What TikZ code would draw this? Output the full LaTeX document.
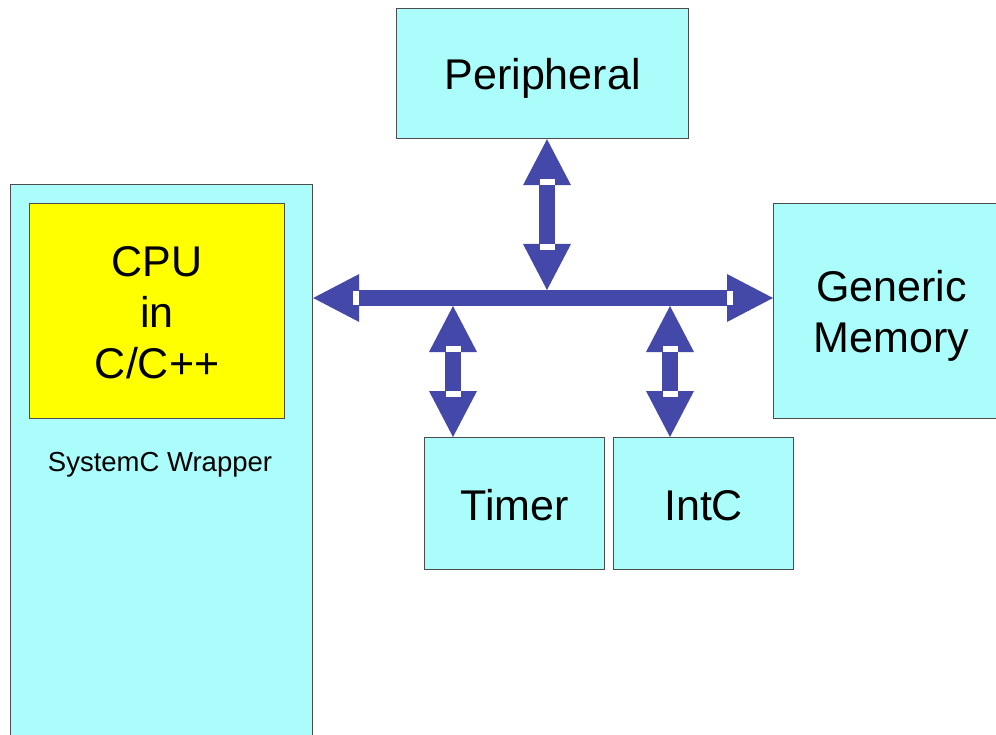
\documentclass[tikz,border=0pt]{standalone}
\usepackage{fontspec}
\setmainfont{Liberation Sans}
\usetikzlibrary{arrows.meta}
\definecolor{boxcyan}{RGB}{170,253,250}
\definecolor{cpuyellow}{RGB}{255,255,0}
\definecolor{busblue}{RGB}{68,72,168}
\newcommand{\ls}{\rule[-8pt]{0pt}{49pt}}
\tikzset{
  blk/.style={draw=black!70,line width=1.2pt,fill=boxcyan,inner sep=0pt,anchor=north west,
    font=\fontsize{43}{51}\selectfont,align=center},
  busarrow/.style={busblue,line width=16pt,
    {Triangle[length=46pt,width=48pt,line width=0pt]}-{Triangle[length=46pt,width=48pt,line width=0pt]}}
}
\begin{document}
\begin{tikzpicture}[x=1pt,y=-1pt]
    \useasboundingbox (0,0) rectangle (996,735);
    \clip (0,0) rectangle (996,735);
    \node[blk,minimum width=302pt,minimum height=570pt] (wrapper) at (10,184) {};
    \node[blk,fill=cpuyellow,minimum width=255pt,minimum height=215pt] (cpu) at (29,203) {\ls CPU\\in\\C/C++\ls};
    \node[anchor=base,font=\fontsize{27.5}{33}\selectfont] (wraplabel) at (160,471) {SystemC Wrapper};
    \node[blk,minimum width=292pt,minimum height=130pt] (periph) at (396,8) {\ls Peripheral};
    \node[blk,minimum width=236pt,minimum height=215pt] (memory) at (773,203) {\ls Generic\\Memory\ls};
    \node[blk,minimum width=180pt,minimum height=132pt] (timer) at (424,437) {\ls Timer};
    \node[blk,minimum width=180pt,minimum height=132pt] (intc) at (613,437) {\ls IntC};
    \coordinate (bus) at (547,298);
    \coordinate (tmrtap) at (453,306);
    \coordinate (inttap) at (670,306);
    \draw[busarrow] (wrapper.east |- bus) -- (memory.west |- bus);
    \draw[busarrow] (bus |- periph.south) -- ([yshift=8pt]bus);
    \draw[busarrow] (tmrtap) -- (tmrtap |- timer.north);
    \draw[busarrow] (inttap) -- (inttap |- intc.north);
    \fill[white] (540,179) rectangle (555,185);
    \fill[white] (540,244) rectangle (555,250);
    \fill[white] (353,291) rectangle (359,305);
    \fill[white] (727,291) rectangle (733,305);
    \fill[white] (446,346) rectangle (461,352);
    \fill[white] (446,391) rectangle (461,397);
    \fill[white] (663,346) rectangle (678,352);
    \fill[white] (663,391) rectangle (678,397);
\end{tikzpicture}
\end{document}
